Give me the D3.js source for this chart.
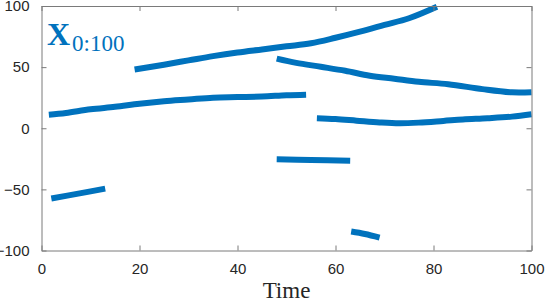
<!DOCTYPE html>
<html>
<head>
<meta charset="utf-8">
<script src="https://cdn.jsdelivr.net/npm/d3@7.9.0/dist/d3.min.js"></script>
<style>
  body { margin: 0; background: #fff; }
  svg { display: block; }
</style>
</head>
<body>
<svg width="548" height="302"></svg>
<script>
// track segments: [time, value]
const trackA = [[1.5, 11], [5, 12.5], [10, 15.5], [15, 17.5], [20, 20], [25, 22], [30, 23.5], [35, 25], [40, 25.5], [45, 26], [50, 27], [54, 27.5]];
const trackB = [[19, 48], [25, 52], [30, 55.5], [35, 59], [40, 62], [45, 64.5], [50, 67], [55, 69.5], [60, 74], [65, 79], [70, 84.5], [75, 90], [80.7, 99.4]];
const trackC = [[48, 57], [52, 53.5], [57, 50.3], [62, 47], [67, 43], [72, 40.5], [77, 38], [83, 36], [90, 32], [96, 29.4], [100, 29.5]];
const trackD = [[56.2, 8.2], [60, 7.5], [64.3, 6.2], [69, 4.8], [73, 4.1], [77, 4.6], [82, 6], [86, 7.2], [91, 8.2], [96, 9.5], [100, 11.4]];
const trackE = [[2, -57.5], [7.5, -53.5], [13, -49.4]];
const trackF = [[48, -25.4], [55, -25.9], [63, -26.5]];
const trackG = [[63.2, -84.5], [66, -86.5], [69, -89.4]];
const tracks = [trackA, trackB, trackC, trackD, trackE, trackF, trackG];

const xTicks = [0, 20, 40, 60, 80, 100];
const yTicks = [-100, -50, 0, 50, 100];

const svg = d3.select('svg');
const margin = { left: 41.5, right: 16.5, top: 6, bottom: 51.5 };
const W = 548, H = 302;

const x = d3.scaleLinear().domain([0, 100]).range([margin.left, W - margin.right]);
const y = d3.scaleLinear().domain([-100, 100]).range([H - margin.bottom, margin.top]);

const blue = '#0072BD';
const axisColor = '#7a7a7a';
const tickLen = 5;

// lines
const line = d3.line()
    .x(d => x(d[0]))
    .y(d => y(d[1]))
    .curve(d3.curveCatmullRom);

svg.append('g')
  .selectAll('path')
  .data(tracks)
  .join('path')
    .attr('d', line)
    .attr('fill', 'none')
    .attr('stroke', blue)
    .attr('stroke-width', 6);

// axes: inward ticks on all four sides
function styleAxis(g) {
    g.select('.domain').attr('stroke', axisColor);
    g.selectAll('.tick line').attr('stroke', axisColor);
    g.selectAll('.tick text')
      .attr('fill', '#262626')
      .style('font-family', 'Liberation Sans, Arial, sans-serif')
      .style('font-size', '15px');
}

svg.append('g')
    .attr('transform', `translate(0,${y(-100)})`)
    .call(d3.axisBottom(x).tickValues(xTicks).tickSizeInner(-tickLen).tickSizeOuter(0).tickPadding(13))
    .call(styleAxis);

svg.append('g')
    .attr('transform', `translate(0,${y(100)})`)
    .call(d3.axisTop(x).tickValues(xTicks).tickSizeInner(-tickLen).tickSizeOuter(0).tickFormat(''))
    .call(styleAxis);

svg.append('g')
    .attr('transform', `translate(${x(0)},0)`)
    .call(d3.axisLeft(y).tickValues(yTicks).tickSizeInner(-tickLen).tickSizeOuter(0).tickPadding(12))
    .call(styleAxis);

svg.append('g')
    .attr('transform', `translate(${x(100)},0)`)
    .call(d3.axisRight(y).tickValues(yTicks).tickSizeInner(-tickLen).tickSizeOuter(0).tickFormat(''))
    .call(styleAxis);

// x label
svg.append('text')
    .attr('x', (x(0) + x(100)) / 2)
    .attr('y', 298)
    .attr('text-anchor', 'middle')
    .attr('fill', '#262626')
    .style('font-family', 'Liberation Serif, Times New Roman, serif')
    .style('font-size', '23px')
    .text('Time');

// series label
const lab = svg.append('text')
    .attr('x', 47)
    .attr('y', 45)
    .attr('fill', blue)
    .style('font-family', 'Liberation Serif, Times New Roman, serif');
lab.append('tspan')
    .style('font-size', '32px')
    .style('font-weight', 'bold')
    .text('X');
lab.append('tspan')
    .attr('dx', 2)
    .attr('dy', 6)
    .style('font-size', '23px')
    .text('0:100');
</script>
</body>
</html>
